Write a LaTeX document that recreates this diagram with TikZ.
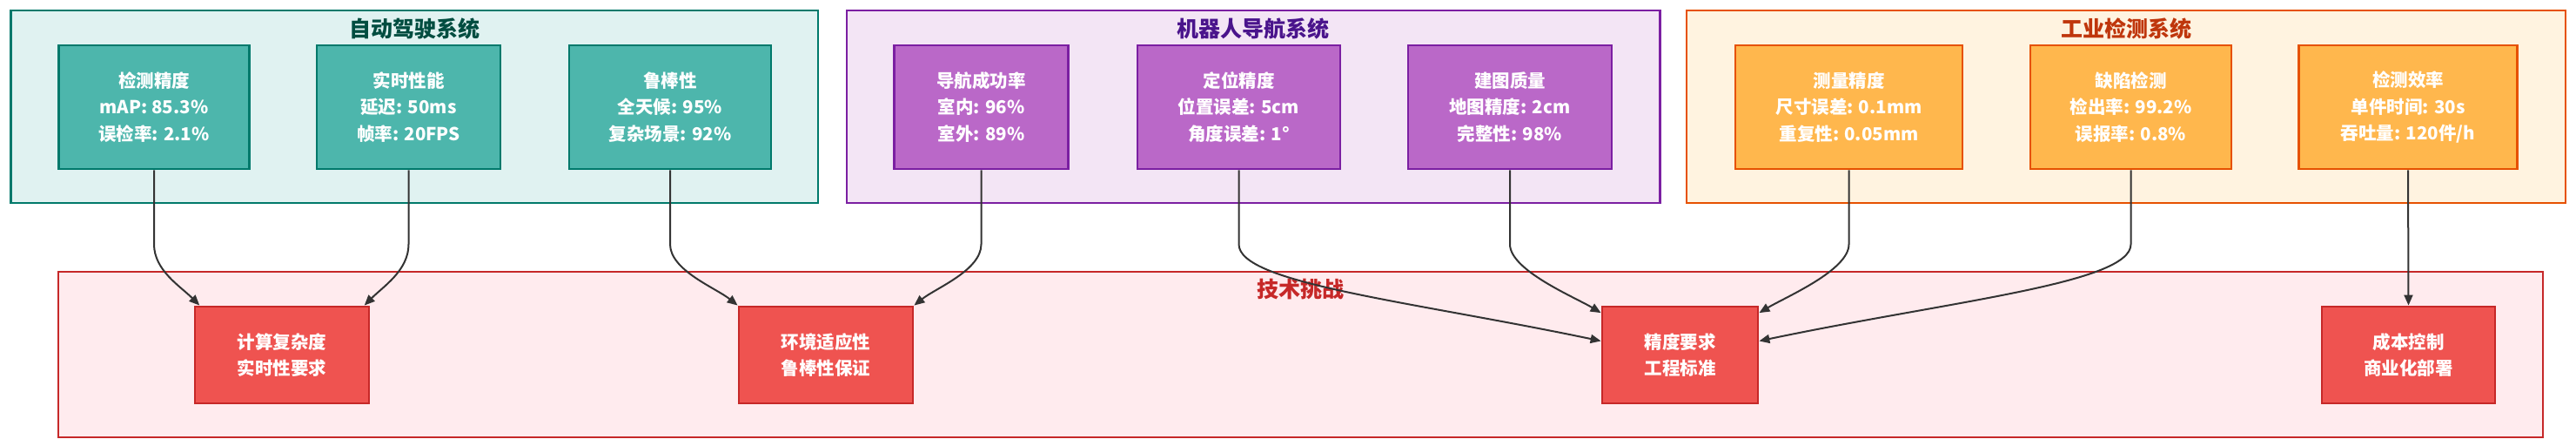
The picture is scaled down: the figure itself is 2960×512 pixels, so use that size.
\documentclass[tikz,border=0pt]{standalone}
\usepackage{fontspec}
\setmainfont{Noto Sans CJK SC}
\usetikzlibrary{arrows.meta}

\definecolor{adfill}{HTML}{E0F2F1}
\definecolor{addraw}{HTML}{00796B}
\definecolor{adbox}{HTML}{4DB6AC}
\definecolor{adtitle}{HTML}{004D40}
\definecolor{rnfill}{HTML}{F3E5F5}
\definecolor{rndraw}{HTML}{7B1FA2}
\definecolor{rnbox}{HTML}{BA68C8}
\definecolor{rntitle}{HTML}{4A148C}
\definecolor{iifill}{HTML}{FFF3E0}
\definecolor{iidraw}{HTML}{E65100}
\definecolor{iibox}{HTML}{FFB74D}
\definecolor{iititle}{HTML}{BF360C}
\definecolor{chfill}{HTML}{FFEBEE}
\definecolor{chdraw}{HTML}{C62828}
\definecolor{chbox}{HTML}{EF5350}
\definecolor{linkgray}{HTML}{333333}

\begin{document}
\begin{tikzpicture}[x=0.5pt,y=-0.5pt,
    sysbox/.style={rectangle, line width=1.25pt, inner sep=0pt},
    metric/.style={rectangle, line width=1.4pt, inner sep=0pt, minimum height=71pt,
        align=center, text=white, font=\bfseries\fontsize{10.25}{15.25}\selectfont},
    challenge/.style={metric, fill=chbox, draw=chdraw, minimum height=55.5pt},
    systitle/.style={font=\bfseries\fontsize{12.5}{15}\selectfont},
    link/.style={draw=linkgray, line width=1pt, -{Triangle[length=6pt,width=5pt]}}]
    \useasboundingbox (0,0) rectangle (2960,512);

    % Systems
    \node[sysbox, fill=adfill, draw=addraw, minimum width=463.75pt, minimum height=110.5pt] (adsys) at (476,122.5) {};
    \node[sysbox, fill=rnfill, draw=rndraw, minimum width=467.25pt, minimum height=110.5pt] (rnsys) at (1440,122.5) {};
    \node[sysbox, fill=iifill, draw=iidraw, minimum width=505pt, minimum height=110.5pt] (iisys) at (2443,122.5) {};
    \node[sysbox, fill=chfill, draw=chdraw, minimum width=1427.5pt, minimum height=95pt] (chsys) at (1494.5,407) {};

    \node[systitle, text=adtitle] (adtit) at (476,33) {自动驾驶系统};
    \node[systitle, text=rntitle] (rntit) at (1440,33) {机器人导航系统};
    \node[systitle, text=iititle] (iitit) at (2443,33) {工业检测系统};
    \node[systitle, text=chdraw] (chtit) at (1494.5,332) {技术挑战};

    % Metrics
    \node[metric, fill=adbox, draw=addraw, minimum width=109.25pt] (ad1) at (177,123) {检测精度\\mAP: 85.3\%\\误检率: 2.1\%};
    \node[metric, fill=adbox, draw=addraw, minimum width=105.5pt] (ad2) at (469.5,123) {实时性能\\延迟: 50ms\\帧率: 20FPS};
    \node[metric, fill=adbox, draw=addraw, minimum width=116pt] (ad3) at (770,123) {鲁棒性\\全天候: 95\%\\复杂场景: 92\%};

    \node[metric, fill=rnbox, draw=rndraw, minimum width=100pt] (rn1) at (1127.5,123) {导航成功率\\室内: 96\%\\室外: 89\%};
    \node[metric, fill=rnbox, draw=rndraw, minimum width=116.5pt] (rn2) at (1423.5,123) {定位精度\\位置误差: 5cm\\角度误差: 1°};
    \node[metric, fill=rnbox, draw=rndraw, minimum width=117pt] (rn3) at (1735,123) {建图质量\\地图精度: 2cm\\完整性: 98\%};

    \node[metric, fill=iibox, draw=iidraw, minimum width=130.5pt] (ii1) at (2124.5,123) {测量精度\\尺寸误差: 0.1mm\\重复性: 0.05mm};
    \node[metric, fill=iibox, draw=iidraw, minimum width=115.5pt] (ii2) at (2448.5,123) {缺陷检测\\检出率: 99.2\%\\误报率: 0.8\%};
    \node[metric, fill=iibox, draw=iidraw, minimum width=125.25pt] (ii3) at (2767,123) {检测效率\\单件时间: 30s\\吞吐量: 120件/h};

    % Challenges
    \node[challenge, minimum width=100pt] (ch1) at (324,407.5) {计算复杂度\\实时性要求};
    \node[challenge, minimum width=100pt] (ch2) at (949,407.5) {环境适应性\\鲁棒性保证};
    \node[challenge, minimum width=89.5pt] (ch3) at (1930.5,407.5) {精度要求\\工程标准};
    \node[challenge, minimum width=99.5pt] (ch4) at (2767.5,407.5) {成本控制\\商业化部署};

    % Links
    \draw[link] (ad1.south) -- ++(0,85) .. controls +(0,30) and +(-22,-22) .. (ch1.149);
    \draw[link] (ad2.south) -- ++(0,85) .. controls +(0,30) and +(22,-22) .. (ch1.31);
    \draw[link] (ad3.south) -- ++(0,85) .. controls +(0,30) and +(-25,-20) .. (ch2.north west);
    \draw[link] (rn1.south) -- ++(0,85) .. controls +(0,30) and +(25,-20) .. (ch2.north east);
    \draw[link] (rn2.south) -- ++(0,85) .. controls +(0,45) and +(-220,-46) .. (ch3.170);
    \draw[link] (rn3.south) -- ++(0,85) .. controls +(0,30) and +(-30,-18) .. (ch3.152);
    \draw[link] (ii1.south) -- ++(0,85) .. controls +(0,30) and +(30,-18) .. (ch3.28);
    \draw[link] (ii2.south) -- ++(0,85) .. controls +(0,45) and +(220,-46) .. (ch3.10);
    \draw[link] (ii3.south) -- (ch4.north);
\end{tikzpicture}
\end{document}
